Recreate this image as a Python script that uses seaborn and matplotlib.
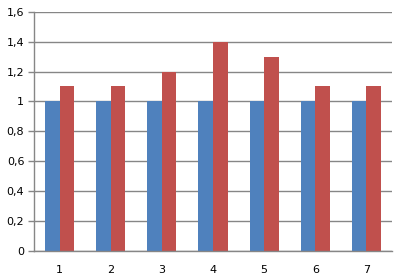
import matplotlib
matplotlib.use("Agg")
import matplotlib.pyplot as plt
import seaborn as sns
import pandas as pd
from matplotlib.ticker import FixedLocator, FuncFormatter

categories = ["1", "2", "3", "4", "5", "6", "7"]
series_a = [1, 1, 1, 1, 1, 1, 1]
series_b = [1.1, 1.1, 1.2, 1.4, 1.3, 1.1, 1.1]
y_ticks = [0, 0.2, 0.4, 0.6, 0.8, 1.0, 1.2, 1.4, 1.6]

df = pd.DataFrame({
    "cat": categories * 2,
    "val": series_a + series_b,
    "series": ["A"] * len(categories) + ["B"] * len(categories),
})

sns.set_style("white")
plt.rcParams['font.family'] = ['DejaVu Sans']

fig = plt.figure(figsize=(4.02, 2.79), dpi=100)
ax = fig.add_axes([34/402, 28/279, (392-34)/402, (251-11.7)/279])

sns.barplot(data=df, x="cat", y="val", hue="series", order=categories,
            palette=["#4F81BD", "#C0504D"], width=0.57, saturation=1,
            legend=False, ax=ax, errorbar=None, linewidth=0, edgecolor="none")

gray = "#868686"
ax.set_xlim(-0.5, len(categories) - 0.5)
ax.set_ylim(0, 1.6)
ax.set_yticks(y_ticks)
ax.yaxis.set_major_formatter(FuncFormatter(
    lambda v, p: ("%g" % round(v, 1)).replace(".", ",")))
ax.yaxis.grid(True, color=gray, linewidth=1)
ax.set_axisbelow(True)
for s in ["top", "right"]:
    ax.spines[s].set_visible(False)
for s in ["left", "bottom"]:
    ax.spines[s].set_color(gray)
    ax.spines[s].set_linewidth(1)

ax.xaxis.set_minor_locator(FixedLocator([i - 0.5 for i in range(len(categories) + 1)]))
ax.tick_params(axis="x", which="major", length=0, labelsize=8, pad=10, labelcolor="black")
ax.tick_params(axis="x", which="minor", length=4, color=gray, width=1, direction="out")
ax.tick_params(axis="y", which="major", length=4, color=gray, width=1, direction="out",
               labelsize=8, pad=3, left=True, labelcolor="black")
ax.set_xlabel("")
ax.set_ylabel("")

fig.savefig("out.png", dpi=100)
